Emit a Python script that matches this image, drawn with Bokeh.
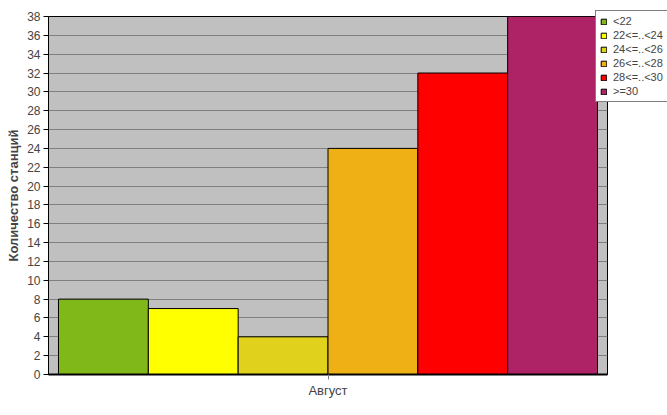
from bokeh.plotting import figure
from bokeh.models import FactorRange, Range1d, FixedTicker, Legend, LegendItem
from bokeh.transform import dodge
from bokeh.embed import file_html
from bokeh.resources import INLINE

month = ["Август"]
classes = ["<22", "22<=..<24", "24<=..<26", "26<=..<28", "28<=..<30", ">=30"]
counts = [8, 7, 4, 24, 32, 38]
colors = ["#80B81A", "#FFFF00", "#E0D21C", "#EFB015", "#FF0000", "#AD2365"]
y_ticks = [0, 2, 4, 6, 8, 10, 12, 14, 16, 18, 20, 22, 24, 26, 28, 30, 32, 34, 36, 38]
y_title = "Количество станций"

p = figure(x_range=FactorRange(*month, range_padding=0.0371),
           y_range=Range1d(0, 38),
           frame_width=559, frame_height=358,
           min_border_left=48, min_border_top=16, min_border_right=59, min_border_bottom=31,
           output_backend="svg", toolbar_location=None)

p.background_fill_color = "#C0C0C0"
p.border_fill_color = "white"
p.outline_line_color = "black"
p.outline_line_width = 1

n = len(classes)
w = 1.0 / n
items = []
for i, (c, v, col) in enumerate(zip(classes, counts, colors)):
    off = -0.5 + w * (i + 0.5)
    r = p.vbar(x=dodge("x", off, range=p.x_range), top="top", width=w,
               source={"x": month, "top": [v]},
               fill_color=col, line_color="black", line_width=1)
    items.append(LegendItem(label=c, renderers=[r]))

legend = Legend(items=items, location=(-12, 272),
                label_text_font="Liberation Sans", label_text_font_size="11px",
                glyph_width=7, glyph_height=7, label_height=12, spacing=2,
                padding=4, margin=-12, border_line_color="black", border_line_width=1,
                background_fill_color="white", background_fill_alpha=1.0,
                label_standoff=6)
p.add_layout(legend, "right")

p.yaxis.ticker = FixedTicker(ticks=y_ticks)
p.yaxis.axis_label = y_title
p.yaxis.axis_label_text_font = "Liberation Sans"
p.yaxis.axis_label_text_font_style = "bold"
p.yaxis.axis_label_text_font_size = "13px"
p.yaxis.axis_label_standoff = 3
p.yaxis.major_label_text_font = "Liberation Sans"
p.yaxis.major_label_text_font_size = "12px"
p.yaxis.major_label_standoff = 3
p.yaxis.major_tick_out = 5
p.yaxis.major_tick_in = 0
p.yaxis.minor_tick_out = 0
p.yaxis.minor_tick_in = 0
p.yaxis.axis_line_color = "black"
p.yaxis.axis_line_dash = "1 1"
p.yaxis.major_tick_line_color = "black"

p.xaxis.major_label_text_font = "Liberation Sans"
p.xaxis.major_label_text_font_size = "13px"
p.xaxis.major_label_standoff = 3
p.xaxis.axis_line_color = "black"
p.xaxis.axis_line_width = 2
p.xaxis.major_tick_out = 5
p.xaxis.major_tick_in = 0
p.xaxis.major_tick_line_color = "#808080"

p.xgrid.grid_line_color = None
p.ygrid.grid_line_color = "#808080"
p.ygrid.grid_line_width = 1

open("out.html", "w").write(file_html(p, INLINE))
